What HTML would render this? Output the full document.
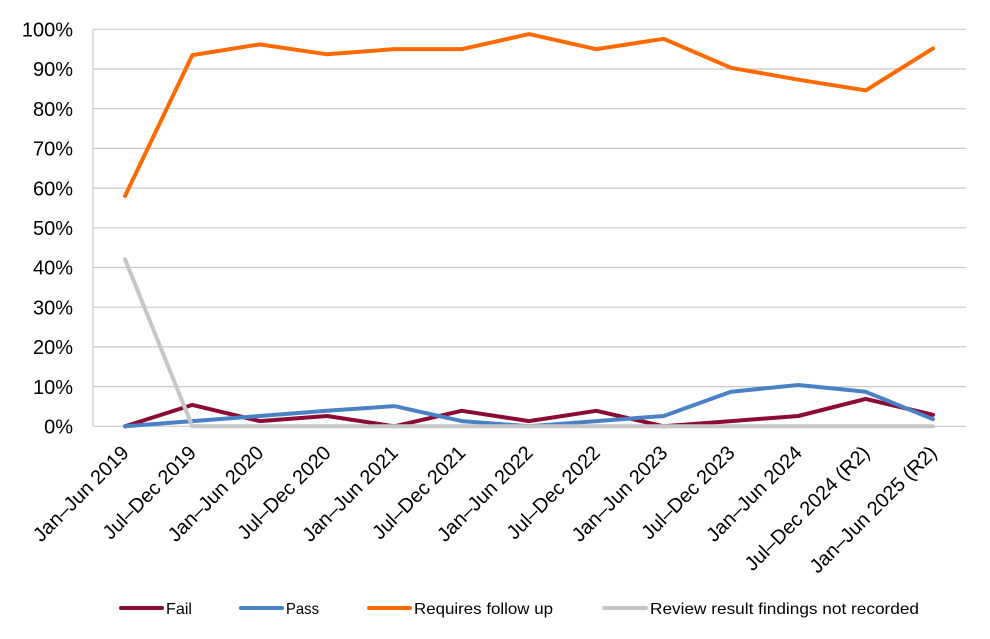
<!DOCTYPE html>
<html>
<head>
<meta charset="utf-8">
<style>
  html,body{margin:0;padding:0;background:#fff;}
  svg{display:block;}
  .yl{font-family:"Liberation Sans",Arial,sans-serif;font-size:20px;fill:#000;}
  .xl{font-family:"Liberation Sans",Arial,sans-serif;font-size:20px;fill:#000;}
  .lg{font-family:"Liberation Sans",Arial,sans-serif;font-size:16px;fill:#000;}
</style>
</head>
<body>
<svg width="990" height="639" viewBox="0 0 990 639" xmlns="http://www.w3.org/2000/svg">
  <rect width="990" height="639" fill="#fff"/>
  <!-- gridlines -->
  <g stroke="#C8C8C8" stroke-width="1.2">
    <line x1="93" y1="29.3" x2="966" y2="29.3"/>
    <line x1="93" y1="69" x2="966" y2="69"/>
    <line x1="93" y1="108.7" x2="966" y2="108.7"/>
    <line x1="93" y1="148.4" x2="966" y2="148.4"/>
    <line x1="93" y1="188.1" x2="966" y2="188.1"/>
    <line x1="93" y1="227.8" x2="966" y2="227.8"/>
    <line x1="93" y1="267.5" x2="966" y2="267.5"/>
    <line x1="93" y1="307.2" x2="966" y2="307.2"/>
    <line x1="93" y1="346.9" x2="966" y2="346.9"/>
    <line x1="93" y1="386.6" x2="966" y2="386.6"/>
    <line x1="93" y1="426.3" x2="966" y2="426.3"/>
    <line x1="93" y1="29.3" x2="93" y2="426.3"/>
  </g>
  <!-- y labels -->
  <g class="yl" text-anchor="end">
    <text x="73" y="36.5">100%</text>
    <text x="73" y="76.2">90%</text>
    <text x="73" y="115.9">80%</text>
    <text x="73" y="155.6">70%</text>
    <text x="73" y="195.3">60%</text>
    <text x="73" y="235">50%</text>
    <text x="73" y="274.7">40%</text>
    <text x="73" y="314.4">30%</text>
    <text x="73" y="354.1">20%</text>
    <text x="73" y="393.8">10%</text>
    <text x="73" y="433.5">0%</text>
  </g>
  <!-- x labels -->
  <g class="xl" text-anchor="end">
    <text transform="translate(130,454) rotate(-45)">Jan–Jun 2019</text>
    <text transform="translate(197.3,454) rotate(-45)">Jul–Dec 2019</text>
    <text transform="translate(264.7,454) rotate(-45)">Jan–Jun 2020</text>
    <text transform="translate(332,454) rotate(-45)">Jul–Dec 2020</text>
    <text transform="translate(399.3,454) rotate(-45)">Jan–Jun 2021</text>
    <text transform="translate(466.7,454) rotate(-45)">Jul–Dec 2021</text>
    <text transform="translate(534,454) rotate(-45)">Jan–Jun 2022</text>
    <text transform="translate(601.3,454) rotate(-45)">Jul–Dec 2022</text>
    <text transform="translate(668.7,454) rotate(-45)">Jan–Jun 2023</text>
    <text transform="translate(736,454) rotate(-45)">Jul–Dec 2023</text>
    <text transform="translate(803.3,454) rotate(-45)">Jan–Jun 2024</text>
    <text transform="translate(870.7,454) rotate(-45)">Jul–Dec 2024 (R2)</text>
    <text transform="translate(938,454) rotate(-45)">Jan–Jun 2025 (R2)</text>
  </g>
  <!-- series -->
  <g fill="none" stroke-width="4" stroke-linejoin="round" stroke-linecap="round">
    <polyline stroke="#8C0B35" points="125,426.3 192.33,404.9 259.67,421.1 327,416 394.33,426.3 461.67,410.8 529,421.1 596.33,410.8 663.67,426.3 731,421.1 798.33,416 865.67,398.9 933,414.8"/>
    <polyline stroke="#4A80C4" points="125,426.3 192.33,421.1 259.67,416 327,410.8 394.33,406.1 461.67,421.1 529,426.3 596.33,421.1 663.67,416 731,391.8 798.33,385 865.67,391.8 933,419.2"/>
    <polyline stroke="#FF6A00" points="125,196 192.33,55.1 259.67,44.4 327,54.3 394.33,49.15 461.67,49.15 529,34.1 596.33,49.15 663.67,38.8 731,67.8 798.33,79.7 865.67,90.4 933,48.4"/>
    <polyline stroke="#C6C6C6" points="125,259.2 192.33,426.3 259.67,426.3 327,426.3 394.33,426.3 461.67,426.3 529,426.3 596.33,426.3 663.67,426.3 731,426.3 798.33,426.3 865.67,426.3 933,426.3"/>
  </g>
  <!-- legend -->
  <g stroke-width="4" stroke-linecap="round">
    <line x1="121" y1="608" x2="162" y2="608" stroke="#8C0B35"/>
    <line x1="241" y1="608" x2="282" y2="608" stroke="#4A80C4"/>
    <line x1="369" y1="608" x2="410" y2="608" stroke="#FF6A00"/>
    <line x1="604" y1="608" x2="646" y2="608" stroke="#C6C6C6"/>
  </g>
  <g class="lg">
    <text x="166" y="614" textLength="26" lengthAdjust="spacingAndGlyphs">Fail</text>
    <text x="286" y="614" textLength="33" lengthAdjust="spacingAndGlyphs">Pass</text>
    <text x="414" y="614" textLength="139" lengthAdjust="spacingAndGlyphs">Requires follow up</text>
    <text x="650" y="614" textLength="269" lengthAdjust="spacingAndGlyphs">Review result findings not recorded</text>
  </g>
</svg>
</body>
</html>
